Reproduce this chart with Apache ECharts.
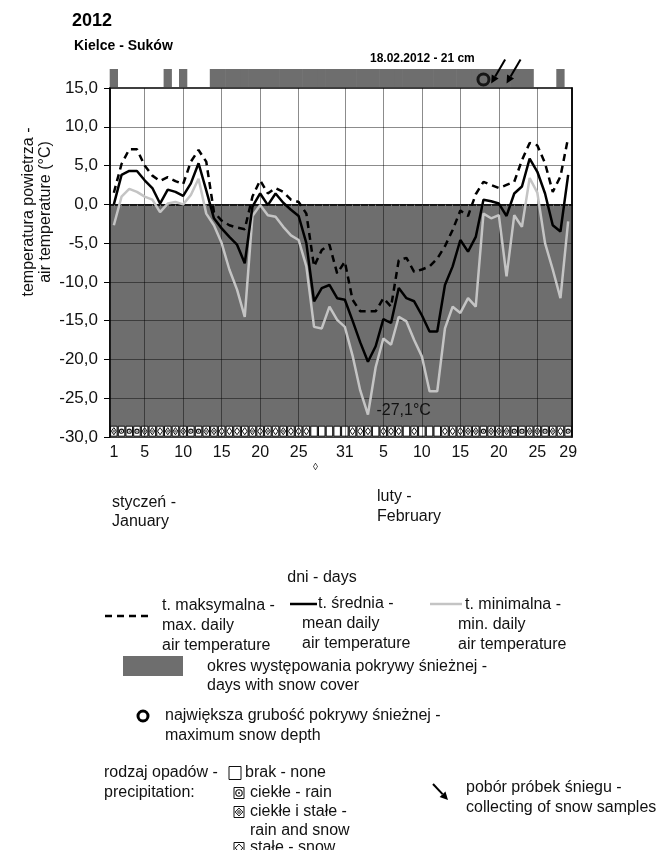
<!DOCTYPE html>
<html>
<head>
<meta charset="utf-8">
<script src="https://cdn.jsdelivr.net/npm/echarts@6.0.0/dist/echarts.min.js"></script>
<style>
  html, body { margin: 0; padding: 0; background: #fff; }
  #chart { width: 656px; height: 850px; }
</style>
</head>
<body>
<div id="chart"></div>
<script>
// Category keys for every day of January and February 2012 (dd.mm)
const days = [];
for (let d = 1; d <= 31; d++) days.push(String(d).padStart(2, '0') + '.01');
for (let d = 1; d <= 29; d++) days.push(String(d).padStart(2, '0') + '.02');

// Labelled days on the x axis and their texts
const tickDays = ['01.01', '05.01', '10.01', '15.01', '20.01', '25.01', '31.01',
                  '05.02', '10.02', '15.02', '20.02', '25.02', '29.02'];
const tickLabels = ['1', '5', '10', '15', '20', '25', '31', '5', '10', '15', '20', '25', '29'];
// Vertical grid lines
const gridDays = ['05.01', '10.01', '15.01', '20.01', '25.01', '31.01',
                  '05.02', '10.02', '15.02', '20.02', '25.02'];
// Horizontal grid lines (°C)
const gridTemps = [10, 5, 0, -5, -10, -15, -20, -25];

// Daily air temperature, Kielce - Suków (°C)
const tMax = [1.5, 5.2, 7.1, 7.1, 5.0, 3.7, 3.0, 3.5, 3.0, 2.6,
              5.5, 7.0, 5.5, -1.0, -2.1, -2.7, -3.0, -3.2, 1.0, 3.1,
              1.4, 2.1, 1.6, 0.6, 0.3, -1.2, -8.0, -5.9, -5.2, -8.9,
              -7.4,
              -12.3, -13.8, -13.8, -13.8, -12.1, -13.2, -7.2, -6.9, -8.7,
              -8.4, -8.0, -7.0, -5.4, -3.3, -0.8, -1.5, 1.3, 2.9, 2.5,
              2.1, 2.5, 2.9, 5.7, 7.9, 7.6, 5.3, 1.6, 3.6, 8.6];
const tMean = [0.0, 3.8, 4.3, 4.3, 3.1, 2.1, 0.1, 1.9, 1.6, 1.1,
               2.7, 5.3, 1.8, -1.8, -3.1, -4.2, -5.2, -7.6, -0.3, 1.4,
               -0.1, 1.4, 0.2, -0.7, -1.5, -5.0, -12.5, -10.8, -10.4, -12.1,
               -12.3,
               -15.0, -17.8, -20.3, -18.3, -14.8, -15.3, -10.8, -12.1, -12.5,
               -14.3, -16.4, -16.4, -10.4, -8.0, -4.6, -6.1, -4.2, 0.6, 0.4,
               0.1, -1.5, 1.4, 2.3, 5.9, 4.2, 1.4, -2.7, -3.5, 3.8];
const tMin = [-2.7, 1.0, 2.0, 1.6, 1.0, 0.6, -1.0, 0.1, 0.3, 0.0,
              1.2, 3.3, -1.2, -2.7, -5.0, -8.4, -11.0, -14.5, -1.5, -0.1,
              -1.4, -1.6, -2.9, -4.0, -4.6, -8.0, -15.8, -16.0, -13.2, -14.9,
              -15.8,
              -19.5, -24.0, -27.1, -21.0, -17.3, -18.1, -14.5, -15.1, -17.5,
              -19.6, -24.1, -24.1, -16.0, -13.2, -14.0, -12.1, -13.2, -1.2, -1.8,
              -1.4, -9.3, -1.4, -2.9, 3.4, 1.5, -5.0, -8.4, -12.1, -2.2];
const minLabelDay = '03.02';

// Snow cover present (1) or absent (0)
const snowCover = [1, 0, 0, 0, 0, 0, 0, 1, 0, 1,
                   0, 0, 0, 1, 1, 1, 1, 1, 1, 1,
                   1, 1, 1, 1, 1, 1, 1, 1, 1, 1,
                   1,
                   1, 1, 1, 1, 1, 1, 1, 1, 1,
                   1, 1, 1, 1, 1, 1, 1, 1, 1, 1,
                   1, 1, 1, 1, 1, 0, 0, 0, 1, 0];
// Precipitation type: 0 none, 1 rain, 2 rain and snow, 3 snow
const precip = [2, 1, 1, 1, 2, 2, 3, 2, 2, 2,
                1, 1, 2, 2, 3, 3, 3, 3, 2, 3,
                2, 3, 2, 3, 3, 3, 0, 0, 0, 0,
                0,
                3, 3, 3, 0, 3, 3, 3, 0, 3,
                0, 0, 0, 3, 3, 3, 2, 2, 1, 2,
                2, 2, 1, 1, 2, 2, 1, 2, 3, 1];
// Maximum snow depth and snow sampling days
const maxDepthDay = '18.02';
const maxDepthCm = 21;
const samplingDays = ['19.02', '21.02'];

const FONT = '"Liberation Sans", Arial, sans-serif';
const INK = '#111';
const SNOW = '#6e6e6e';
const GRIDLINE = 'rgba(0,0,0,0.45)';

function diamond(cx, cy, hw, hh) {
  return [[cx, cy - hh], [cx + hw, cy], [cx, cy + hh], [cx - hw, cy]];
}

// Precipitation symbol drawn inside a small box
function precipSymbol(code, cx, cy, bw, bh, lw) {
  const out = [{
    type: 'rect',
    shape: { x: cx - bw / 2, y: cy - bh / 2, width: bw, height: bh },
    style: { fill: '#fff', stroke: INK, lineWidth: lw }
  }];
  const s = Math.min(bw, bh);
  if (code === 1) {
    out.push({ type: 'circle', shape: { cx, cy, r: s * 0.32 }, style: { fill: '#fff', stroke: INK, lineWidth: lw * 1.1 } });
    out.push({ type: 'circle', shape: { cx, cy, r: s * 0.1 }, style: { fill: INK } });
  } else if (code === 2) {
    out.push({ type: 'polygon', shape: { points: diamond(cx, cy, s * 0.38, bh * 0.36) }, style: { fill: '#fff', stroke: INK, lineWidth: lw } });
    out.push({ type: 'circle', shape: { cx, cy, r: s * 0.16 }, style: { fill: '#888', stroke: '#555', lineWidth: 0.6 } });
  } else if (code === 3) {
    out.push({ type: 'polygon', shape: { points: diamond(cx, cy, s * 0.38, bh * 0.36) }, style: { fill: '#fff', stroke: INK, lineWidth: lw } });
  }
  return out;
}

function renderPrecip(params, api) {
  const i = api.value(0);
  const code = api.value(1);
  const c = api.coord([i, -29.25]);
  const w = api.size([1, 0])[0];
  return { type: 'group', children: precipSymbol(code, c[0], c[1], w - 1.2, 10, 1) };
}

function renderSnow(params, api) {
  const i = api.value(0);
  if (!api.value(1)) return null;
  const top = api.coord([i, 1]);
  const bot = api.coord([i, 0]);
  const w = api.size([1, 0])[0];
  return {
    type: 'rect',
    shape: { x: top[0] - w / 2 - 0.3, y: top[1], width: w + 0.6, height: bot[1] - top[1] },
    style: { fill: SNOW }
  };
}

function arrowShapes(tip, tail, lw, color) {
  const ang = Math.atan2(tip[1] - tail[1], tip[0] - tail[0]);
  const hl = 8, hw = 4;
  const bx = tip[0] - hl * Math.cos(ang), by = tip[1] - hl * Math.sin(ang);
  const px = -Math.sin(ang) * hw, py = Math.cos(ang) * hw;
  return [
    { type: 'line', shape: { x1: tail[0], y1: tail[1], x2: bx, y2: by }, style: { stroke: color, lineWidth: lw } },
    { type: 'polygon', shape: { points: [tip, [bx + px, by + py], [bx - px, by - py]] }, style: { fill: color } }
  ];
}

function renderArrow(params, api) {
  const tip = api.coord([api.value(0), 0.2]);
  const tail = [tip[0] + 14, tip[1] - 24];
  return { type: 'group', children: arrowShapes(tip, tail, 2, '#000') };
}

function txt(text, x, y, opts) {
  return {
    type: 'text', silent: true,
    style: Object.assign({
      text, x, y, fill: INK, font: '16px ' + FONT, align: 'left', verticalAlign: 'middle'
    }, opts || {})
  };
}

// Titles, axis caption, legend and annotations
const legend = [];
legend.push(txt('2012', 72, 21, { font: 'bold 18px ' + FONT, fill: '#000' }));
legend.push(txt('Kielce - Suków', 74, 46, { font: 'bold 14px ' + FONT, fill: '#000' }));
legend.push({
  type: 'text', silent: true, x: 37, y: 212, rotation: Math.PI / 2,
  style: {
    text: 'temperatura powietrza -\nair temperature (°C)', x: 0, y: 0,
    fill: INK, font: '16px ' + FONT, lineHeight: 17, align: 'center', verticalAlign: 'middle'
  }
});
legend.push(txt('18.02.2012 - ' + maxDepthCm + ' cm', 370, 59, { font: 'bold 12px ' + FONT, fill: '#000' }));
legend.push(txt('◊', 313, 467, { font: '10px ' + FONT }));
legend.push(txt('styczeń -', 112, 503));
legend.push(txt('January', 112, 522));
legend.push(txt('luty -', 377, 497));
legend.push(txt('February', 377, 517));
legend.push(txt('dni - days', 322, 578, { align: 'center' }));

// line samples
legend.push({ type: 'line', silent: true, shape: { x1: 105, y1: 616, x2: 150, y2: 616 },
  style: { stroke: '#000', lineWidth: 2.5, lineDash: [7, 5] } });
legend.push(txt('t. maksymalna -', 162, 606));
legend.push(txt('max. daily', 162, 626));
legend.push(txt('air temperature', 162, 646));
legend.push({ type: 'line', silent: true, shape: { x1: 290, y1: 604, x2: 317, y2: 604 },
  style: { stroke: '#000', lineWidth: 2.5 } });
legend.push(txt('t. średnia -', 318, 604));
legend.push(txt('mean daily', 302, 624));
legend.push(txt('air temperature', 302, 644));
legend.push({ type: 'line', silent: true, shape: { x1: 430, y1: 604, x2: 462, y2: 604 },
  style: { stroke: '#c4c4c4', lineWidth: 2.5 } });
legend.push(txt('t. minimalna -', 465, 605));
legend.push(txt('min. daily', 458, 625));
legend.push(txt('air temperature', 458, 645));

// snow cover swatch
legend.push({ type: 'rect', silent: true, shape: { x: 123, y: 656, width: 60, height: 20 }, style: { fill: SNOW } });
legend.push(txt('okres występowania pokrywy śnieżnej -', 207, 667));
legend.push(txt('days with snow cover', 207, 686));

// max depth marker
legend.push({ type: 'circle', silent: true, shape: { cx: 143, cy: 716, r: 5 }, style: { fill: 'none', stroke: '#000', lineWidth: 3 } });
legend.push(txt('największa grubość pokrywy śnieżnej -', 165, 716));
legend.push(txt('maximum snow depth', 165, 736));

// precipitation types
legend.push(txt('rodzaj opadów -', 104, 773));
legend.push(txt('precipitation:', 104, 793));
const precipLegend = [[0, 235, 773, 'brak - none', 245], [1, 239, 793, 'ciekłe - rain', 250],
                      [2, 239, 812, 'ciekłe i stałe -', 250], [3, 239, 848, 'stałe - snow', 250]];
precipLegend.forEach(([code, cx, cy, label, tx]) => {
  precipSymbol(code, cx, cy, code === 0 ? 12 : 10, code === 0 ? 13 : 11, 1).forEach(el => {
    el.silent = true; legend.push(el);
  });
  legend.push(txt(label, tx, cy));
});
legend.push(txt('rain and snow', 250, 831));

// sampling arrow
arrowShapes([448, 800], [433, 784], 2, '#000').forEach(el => { el.silent = true; legend.push(el); });
legend.push(txt('pobór próbek śniegu -', 466, 788));
legend.push(txt('collecting of snow samples', 466, 808));

const labelAt = {};
tickDays.forEach((d, k) => { labelAt[days.indexOf(d)] = tickLabels[k]; });

const chart = echarts.init(document.getElementById('chart'), null, { renderer: 'canvas' });
chart.setOption({
  animation: false,
  backgroundColor: '#fff',
  textStyle: { fontFamily: FONT },
  grid: [
    { left: 110, right: 84, top: 88, bottom: 413, show: true, borderColor: '#000', borderWidth: 1.5, backgroundColor: '#fff' },
    { left: 110, right: 84, top: 69, height: 18, show: false }
  ],
  xAxis: [
    {
      type: 'category', gridIndex: 0, data: days, boundaryGap: true, z: 4,
      axisLine: { lineStyle: { color: '#000', width: 1.5 } },
      axisTick: { show: true, interval: 0, alignWithLabel: true, length: 4, lineStyle: { color: '#777' } },
      axisLabel: {
        interval: (i) => labelAt[i] !== undefined,
        formatter: (v, i) => labelAt[i] || '',
        fontSize: 16, color: INK, margin: 8, fontFamily: FONT
      },
      splitLine: { show: false }
    },
    { type: 'category', gridIndex: 1, data: days, boundaryGap: true, show: false }
  ],
  yAxis: [
    {
      type: 'value', gridIndex: 0, min: -30, max: 15, interval: 5, z: 4,
      axisLine: { show: true, lineStyle: { color: '#000', width: 1.5 } },
      axisTick: { show: true, length: 6, lineStyle: { color: '#000' } },
      axisLabel: { formatter: (v) => v.toFixed(1).replace('.', ','), fontSize: 17, color: INK, margin: 12, fontFamily: FONT },
      splitLine: { show: false }
    },
    { type: 'value', gridIndex: 1, min: 0, max: 1, show: false },
    {
      type: 'value', gridIndex: 0, min: -30, max: 15, position: 'right', z: 4,
      axisLine: { show: true, lineStyle: { color: '#000', width: 1.5 } },
      axisTick: { show: false }, axisLabel: { show: false }, splitLine: { show: false }
    }
  ],
  graphic: legend,
  series: [
    {
      name: 'below zero', type: 'line', xAxisIndex: 0, yAxisIndex: 0, data: [], z: 1, silent: true,
      markArea: { silent: true, itemStyle: { color: SNOW }, data: [[{ yAxis: -30 }, { yAxis: 0 }]] }
    },
    {
      name: 'grid', type: 'line', xAxisIndex: 0, yAxisIndex: 0, data: [], z: 2, silent: true,
      markLine: {
        silent: true, symbol: 'none', label: { show: false },
        lineStyle: { color: GRIDLINE, width: 1, type: 'solid' },
        data: gridTemps.map(v => ({ yAxis: v })).concat(gridDays.map(d => ({ xAxis: d })))
      }
    },
    {
      name: 'precipitation', type: 'custom', xAxisIndex: 0, yAxisIndex: 0, z: 3, silent: true,
      renderItem: renderPrecip,
      data: precip.map((c, i) => [i, c])
    },
    {
      name: 't. minimalna', type: 'line', xAxisIndex: 0, yAxisIndex: 0, data: tMin, z: 5,
      symbol: 'none', lineStyle: { color: '#c4c4c4', width: 2.5 },
      markPoint: {
        symbol: 'circle', symbolSize: 1, itemStyle: { color: 'rgba(0,0,0,0)' },
        label: {
          show: true, position: 'right', distance: 8, offset: [0, -4],
          formatter: (p) => p.value.toFixed(1).replace('.', ',') + '°C',
          color: INK, fontSize: 16, fontFamily: FONT
        },
        data: [{ coord: [minLabelDay, tMin[days.indexOf(minLabelDay)]], value: tMin[days.indexOf(minLabelDay)] }]
      }
    },
    {
      name: 't. średnia', type: 'line', xAxisIndex: 0, yAxisIndex: 0, data: tMean, z: 6,
      symbol: 'none', lineStyle: { color: '#000', width: 2.5 }
    },
    {
      name: 't. maksymalna', type: 'line', xAxisIndex: 0, yAxisIndex: 0, data: tMax, z: 7,
      symbol: 'none', lineStyle: { color: '#000', width: 2.5, type: [7, 5] }
    },
    {
      name: 'snow cover', type: 'custom', xAxisIndex: 1, yAxisIndex: 1, z: 2, silent: true,
      renderItem: renderSnow, data: snowCover.map((v, i) => [i, v])
    },
    {
      name: 'max snow depth', type: 'scatter', xAxisIndex: 1, yAxisIndex: 1, z: 4, silent: true,
      symbol: 'circle', symbolSize: 11,
      itemStyle: { color: 'rgba(0,0,0,0)', borderColor: '#000', borderWidth: 3 },
      data: [[days.indexOf(maxDepthDay), 0.42]]
    },
    {
      name: 'snow sampling', type: 'custom', xAxisIndex: 1, yAxisIndex: 1, z: 5, silent: true, clip: false,
      renderItem: renderArrow, data: samplingDays.map(d => [days.indexOf(d), 0])
    }
  ]
});
</script>
</body>
</html>
